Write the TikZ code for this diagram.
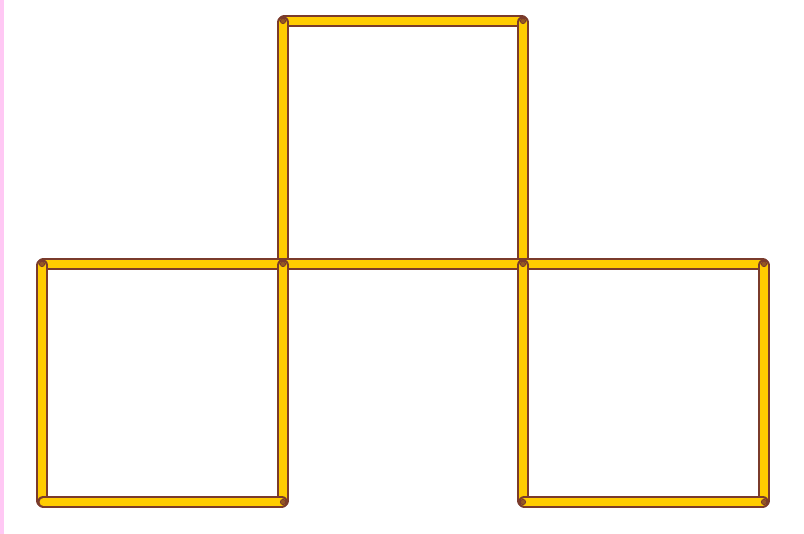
\documentclass[tikz,border=0pt]{standalone}
\usepackage{tikz}
\usetikzlibrary{calc}

\definecolor{matchbrown}{HTML}{7A3B2C}
\definecolor{matchyellow}{HTML}{FFCC00}
\definecolor{sidepink}{HTML}{FFC8F4}

\tikzset{
  stick/.style = {draw=matchbrown, line width=1.8pt, double=matchyellow, double distance=5.6pt, line cap=round, shorten <=1pt, shorten >=1pt},
  head/.style = {fill=matchbrown!80!matchyellow, draw=matchbrown, line width=0.6pt}
}

\begin{document}
\begin{tikzpicture}[x=0.75pt, y=-0.75pt]
    % Frame
    \useasboundingbox (0,0) rectangle (804,534);
    \fill[white] (0,0) rectangle (804,534);
    \fill[sidepink] (0,0) rectangle (4,534);

    % Corner points
    \coordinate (A) at (283,21);
    \coordinate (B) at (523,21);
    \coordinate (C) at (42,264);
    \coordinate (D) at (283,264);
    \coordinate (E) at (523,264);
    \coordinate (F) at (764,264);
    \coordinate (G) at (42,502);
    \coordinate (H) at (283,502);
    \coordinate (I) at (523,502);
    \coordinate (J) at (764,502);

    % Top square
    \draw[stick] (A) -- (B);
    \draw[stick] (A) -- (D);
    \draw[stick] (B) -- (E);
    % Middle row
    \draw[stick] (C) -- (D);
    \draw[stick] (D) -- (E);
    \draw[stick] (E) -- (F);
    % Left square
    \draw[stick] (C) -- (G);
    \draw[stick] (D) -- (H);
    \draw[stick] (G) -- (H);
    % Right square
    \draw[stick] (E) -- (I);
    \draw[stick] (F) -- (J);
    \draw[stick] (I) -- (J);

    % Match heads
    \foreach \p in {A,B,C,D,E,F,H,I,J}
        \draw[head] (\p) circle (2pt);
\end{tikzpicture}
\end{document}
